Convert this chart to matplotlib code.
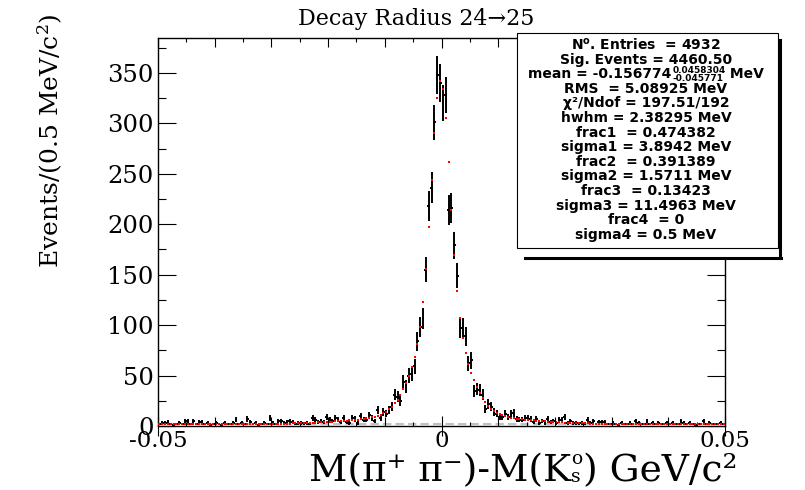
import matplotlib
matplotlib.use("Agg")
import numpy as np
import matplotlib.pyplot as plt
from matplotlib.patches import Rectangle
from matplotlib.lines import Line2D

# ---------------- histogram definition ----------------
x_lo, x_hi, n_bins = -0.05, 0.05, 200   # GeV, 0.5 MeV bins

# events per bin
counts = [
    2, 3, 3, 4, 2, 1, 2, 3, 2, 5,
    5, 2, 5, 2, 4, 4, 2, 3, 1, 2,
    3, 2, 1, 3, 2, 2, 3, 6, 2, 3,
    2, 7, 4, 2, 3, 1, 2, 3, 2, 8,
    3, 2, 5, 5, 3, 4, 5, 4, 2, 3,
    3, 2, 3, 2, 8, 6, 4, 5, 4, 9,
    6, 5, 8, 6, 4, 8, 4, 3, 8, 7,
    3, 10, 6, 6, 11, 8, 5, 16, 8, 14,
    12, 16, 19, 31, 29, 25, 44, 39, 50, 52,
    59, 84, 98, 107, 155, 218, 236, 301, 348, 340,
    320, 328, 214, 216, 179, 149, 97, 97, 89, 62,
    65, 35, 37, 36, 31, 17, 22, 19, 14, 12,
    9, 9, 12, 9, 12, 13, 7, 6, 6, 8,
    8, 7, 4, 7, 3, 5, 3, 7, 4, 5,
    3, 6, 6, 9, 3, 5, 3, 3, 2, 3,
    2, 6, 3, 5, 2, 4, 4, 4, 2, 2,
    3, 2, 1, 3, 2, 2, 3, 2, 5, 3,
    2, 2, 5, 2, 3, 2, 3, 2, 2, 3,
    2, 3, 2, 2, 5, 3, 2, 3, 2, 1,
    2, 2, 5, 2, 3, 2, 2, 2, 3, 2,
]

# fitted model (3 gaussians + flat background) at each bin centre
fit_vals = [
    1.70, 1.70, 1.70, 1.70, 1.70, 1.70, 1.70, 1.70, 1.70, 1.70,
    1.70, 1.70, 1.70, 1.71, 1.71, 1.71, 1.71, 1.72, 1.72, 1.72,
    1.73, 1.73, 1.74, 1.74, 1.75, 1.76, 1.77, 1.78, 1.79, 1.80,
    1.81, 1.83, 1.85, 1.87, 1.89, 1.91, 1.94, 1.97, 2.00, 2.04,
    2.08, 2.12, 2.17, 2.23, 2.28, 2.35, 2.42, 2.49, 2.57, 2.66,
    2.75, 2.86, 2.97, 3.08, 3.21, 3.34, 3.48, 3.63, 3.79, 3.96,
    4.13, 4.32, 4.51, 4.71, 4.92, 5.15, 5.38, 5.62, 5.88, 6.15,
    6.44, 6.76, 7.11, 7.51, 7.98, 8.55, 9.24, 10.10, 11.18, 12.54,
    14.25, 16.40, 19.06, 22.31, 26.25, 30.93, 36.40, 42.72, 49.96, 58.36,
    68.45, 81.29, 98.63, 122.71, 155.47, 196.99, 244.25, 290.26, 325.63, 341.71,
    334.20, 305.20, 262.00, 214.20, 169.95, 133.80, 106.70, 87.10, 72.83, 61.87,
    52.94, 45.30, 38.65, 32.87, 27.90, 23.70, 20.19, 17.32, 14.99, 13.13,
    11.65, 10.47, 9.54, 8.79, 8.18, 7.68, 7.25, 6.88, 6.55, 6.25,
    5.97, 5.71, 5.46, 5.22, 5.00, 4.79, 4.58, 4.39, 4.20, 4.02,
    3.85, 3.69, 3.54, 3.39, 3.26, 3.13, 3.01, 2.90, 2.79, 2.69,
    2.60, 2.52, 2.44, 2.37, 2.31, 2.25, 2.20, 2.15, 2.10, 2.06,
    2.02, 1.99, 1.96, 1.93, 1.90, 1.88, 1.86, 1.84, 1.82, 1.81,
    1.79, 1.78, 1.77, 1.76, 1.75, 1.75, 1.74, 1.73, 1.73, 1.72,
    1.72, 1.72, 1.71, 1.71, 1.71, 1.71, 1.71, 1.70, 1.70, 1.70,
    1.70, 1.70, 1.70, 1.70, 1.70, 1.70, 1.70, 1.70, 1.70, 1.70,
]
background_level = 1.70

x_ticks_labelled = [-0.05, 0.0, 0.05]
x_tick_labels = ["-0.05", "0", "0.05"]
y_ticks = [0, 50, 100, 150, 200, 250, 300, 350]
y_max = 384.7

title_text = "Decay Radius 24\u219225"
# x-axis title: leading part, K_s^o scripts, trailing part
x_title_head = "M(\u03c0\u207a \u03c0\u207b)-M(K"
x_title_sup = "o"
x_title_sub = "s"
x_title_tail = ") GeV/c\u00b2"
y_title = r"Events/(0.5 MeV/c$^{2}$)"

# fit summary; the mean line carries asymmetric errors as scripts
mean_value = "mean = -0.156774"
mean_err_hi = "0.0458304"
mean_err_lo = "-0.045771"
mean_unit = " MeV"
stats_lines = [
    r"N$^{\mathbf{o}}$. Entries  = 4932",
    "Sig. Events = 4460.50",
    None,  # mean line, assembled below
    "RMS  = 5.08925 MeV",
    "\u03c7\u00b2/Ndof = 197.51/192",
    "hwhm = 2.38295 MeV",
    "frac1  = 0.474382",
    "sigma1 = 3.8942 MeV",
    "frac2  = 0.391389",
    "sigma2 = 1.5711 MeV",
    "frac3  = 0.13423",
    "sigma3 = 11.4963 MeV",
    "frac4  = 0",
    "sigma4 = 0.5 MeV",
]

# ---------------- figure ----------------
W, H = 805, 490
fig = plt.figure(figsize=(W / 100, H / 100), dpi=100)


def fx(px):
    return px / W


def fy(py):
    return 1 - py / H


SERIF = ["DejaVu Serif", "DejaVu Sans"]

ax = fig.add_axes([fx(158), fy(426), fx(725) - fx(158), fy(38) - fy(426)])
ax.set_xlim(x_lo, x_hi)
ax.set_ylim(0, y_max)

edges = np.linspace(x_lo, x_hi, n_bins + 1)
centres = 0.5 * (edges[:-1] + edges[1:])
half_w = 0.5 * (edges[1] - edges[0])
counts_arr = np.asarray(counts, dtype=float)

# background component
ax.axhline(background_level, color="#c0c0c0", lw=1.5, dashes=(4, 2), zorder=1)

# data with Poisson errors
ax.errorbar(centres, counts_arr, yerr=np.sqrt(counts_arr), xerr=half_w,
            fmt="none", ecolor="black", elinewidth=1.4, capsize=0, zorder=2)

# fit curve sampled at bin centres
ax.plot(centres, fit_vals, ls="none", marker="s", ms=1.8, mfc="red",
        mec="red", mew=0, zorder=3)

# axes styling
for sp in ax.spines.values():
    sp.set_linewidth(1.0)
    sp.set_color("black")

ax.set_yticks(y_ticks)
ax.set_yticklabels([str(v) for v in y_ticks])
ax.set_yticks(np.arange(25, y_max, 50), minor=True)
ax.tick_params(axis="y", which="major", direction="in", length=13, width=0.8,
               right=True, labelsize=17.5, pad=3)
ax.tick_params(axis="y", which="minor", direction="in", length=6, width=0.8,
               right=True)

ax.set_xticks(x_ticks_labelled)
ax.set_xticklabels(x_tick_labels)
ax.set_xticks(np.arange(-0.045, 0.0451, 0.01), minor=True)
ax.tick_params(axis="x", which="major", direction="inout", length=14.4,
               width=0.8, top=False, labelsize=16.5, pad=-4.5)
ax.tick_params(axis="x", which="minor", direction="in", length=3, width=0.8,
               top=True)
for lab in ax.get_xticklabels() + ax.get_yticklabels():
    lab.set_fontfamily(SERIF)

# intermediate ticks every 0.01 on both horizontal edges
xt = ax.get_xaxis_transform()
mid_ticks = [v for v in np.arange(-0.04, 0.0401, 0.01) if abs(v) > 1e-9]
ax.vlines(mid_ticks, 0, 9 / 388, transform=xt, color="black", lw=0.8, zorder=4)
ax.vlines(mid_ticks, 1 - 9 / 388, 1, transform=xt, color="black", lw=0.8, zorder=4)
ax.vlines(x_ticks_labelled, 1 - 10 / 388, 1, transform=xt, color="black",
          lw=0.8, zorder=4, clip_on=False)

# titles
fig.text(fx(298), fy(19), title_text, ha="left", va="center",
         fontsize=16, fontfamily=SERIF)
fig.text(fx(50), fy(13), y_title, rotation=90, ha="center", va="top",
         fontsize=18, fontfamily=SERIF, math_fontfamily="dejavuserif")

fig.canvas.draw()
renderer = fig.canvas.get_renderer()
# lowest edge of the x tick labels, in pixels from the top
tick_bottom = max(H - lab.get_window_extent(renderer).y0
                  for lab in ax.get_xticklabels())

# x-axis title laid out piece by piece, right end near the axis end;
# the largest size that fits between the tick labels and the bottom edge
t_head = fig.text(0, 0, x_title_head, ha="left", va="baseline", fontfamily=SERIF)
t_sup = fig.text(0, 0, x_title_sup, ha="left", va="baseline", fontfamily=SERIF)
t_sub = fig.text(0, 0, x_title_sub, ha="left", va="baseline", fontfamily=SERIF)
t_tail = fig.text(0, 0, x_title_tail, ha="left", va="baseline", fontfamily=SERIF)
size = 27.0
while True:
    t_head.set_fontsize(size)
    t_tail.set_fontsize(size)
    bb0 = t_head.get_window_extent(renderer)   # baseline at the bottom edge
    base = H - 1 + bb0.y0                      # lift so the descent fits
    top = base - bb0.y1
    if top >= tick_bottom + 1 or size <= 18:
        break
    size -= 0.5
script = size * 0.5
t_sup.set_fontsize(script)
t_sub.set_fontsize(script)
t_head.set_y(fy(base))
t_tail.set_y(fy(base))
t_sub.set_y(fy(base + 1))
sub_top = H - t_sub.get_window_extent(renderer).y1
t_sup.set_y(fy(base))
sup_h = t_sup.get_window_extent(renderer)
sup_desc = (H - sup_h.y0) - base
t_sup.set_y(fy(sub_top - 0.5 - sup_desc))
w_head = t_head.get_window_extent(renderer).width
w_scr = max(t_sup.get_window_extent(renderer).width,
            t_sub.get_window_extent(renderer).width)
w_tail = t_tail.get_window_extent(renderer).width
x_start = 737 - (w_head + w_scr + w_tail)
t_head.set_x(fx(x_start))
t_sup.set_x(fx(x_start + w_head))
t_sub.set_x(fx(x_start + w_head))
t_tail.set_x(fx(x_start + w_head + w_scr))

# ---------------- statistics box ----------------
bx0, bx1, by0, by1 = 517, 778, 33, 248
fig.patches.append(Rectangle((fx(bx0), fy(260)), fx(783) - fx(bx0), fy(by0) - fy(260),
                             transform=fig.transFigure, facecolor="white",
                             edgecolor="none", zorder=5))
fig.patches.append(Rectangle((fx(bx0), fy(by1)), fx(bx1) - fx(bx0), fy(by0) - fy(by1),
                             transform=fig.transFigure, facecolor="white",
                             edgecolor="black", lw=0.8, zorder=6))
fig.lines.append(Line2D([fx(525), fx(781)], [fy(258), fy(258)],
                        transform=fig.transFigure, color="black", lw=2.2, zorder=6))
fig.lines.append(Line2D([fx(780), fx(780)], [fy(40), fy(258)],
                        transform=fig.transFigure, color="black", lw=2.2, zorder=6))

stat_font = dict(fontweight="bold", fontfamily="DejaVu Sans", zorder=7)
stat_size, script_size = 10, 6.5
box_cx = 646
line_y0, line_dy = 45, 14.6
for k, txt in enumerate(stats_lines):
    if txt is None:
        continue
    fig.text(fx(box_cx), fy(line_y0 + k * line_dy), txt, ha="center",
             va="center", fontsize=stat_size, math_fontfamily="dejavusans",
             **stat_font)

# mean line: value, stacked upper/lower errors, unit
y_mean = line_y0 + 2 * line_dy
t_val = fig.text(0, fy(y_mean), mean_value, ha="left", va="center",
                 fontsize=stat_size, **stat_font)
t_hi = fig.text(0, fy(y_mean - 3.5), mean_err_hi, ha="left", va="center",
                fontsize=script_size, **stat_font)
t_lo = fig.text(0, fy(y_mean + 4), mean_err_lo, ha="left", va="center",
                fontsize=script_size, **stat_font)
t_unit = fig.text(0, fy(y_mean), mean_unit, ha="left", va="center",
                  fontsize=stat_size, **stat_font)
w_val = t_val.get_window_extent(renderer).width
w_s = max(t_hi.get_window_extent(renderer).width,
          t_lo.get_window_extent(renderer).width)
w_unit = t_unit.get_window_extent(renderer).width
x0 = box_cx - (w_val + 1 + w_s + w_unit) / 2
t_val.set_x(fx(x0))
t_hi.set_x(fx(x0 + w_val + 1))
t_lo.set_x(fx(x0 + w_val + 1))
t_unit.set_x(fx(x0 + w_val + 1 + w_s))

fig.savefig("out.png", dpi=100)
